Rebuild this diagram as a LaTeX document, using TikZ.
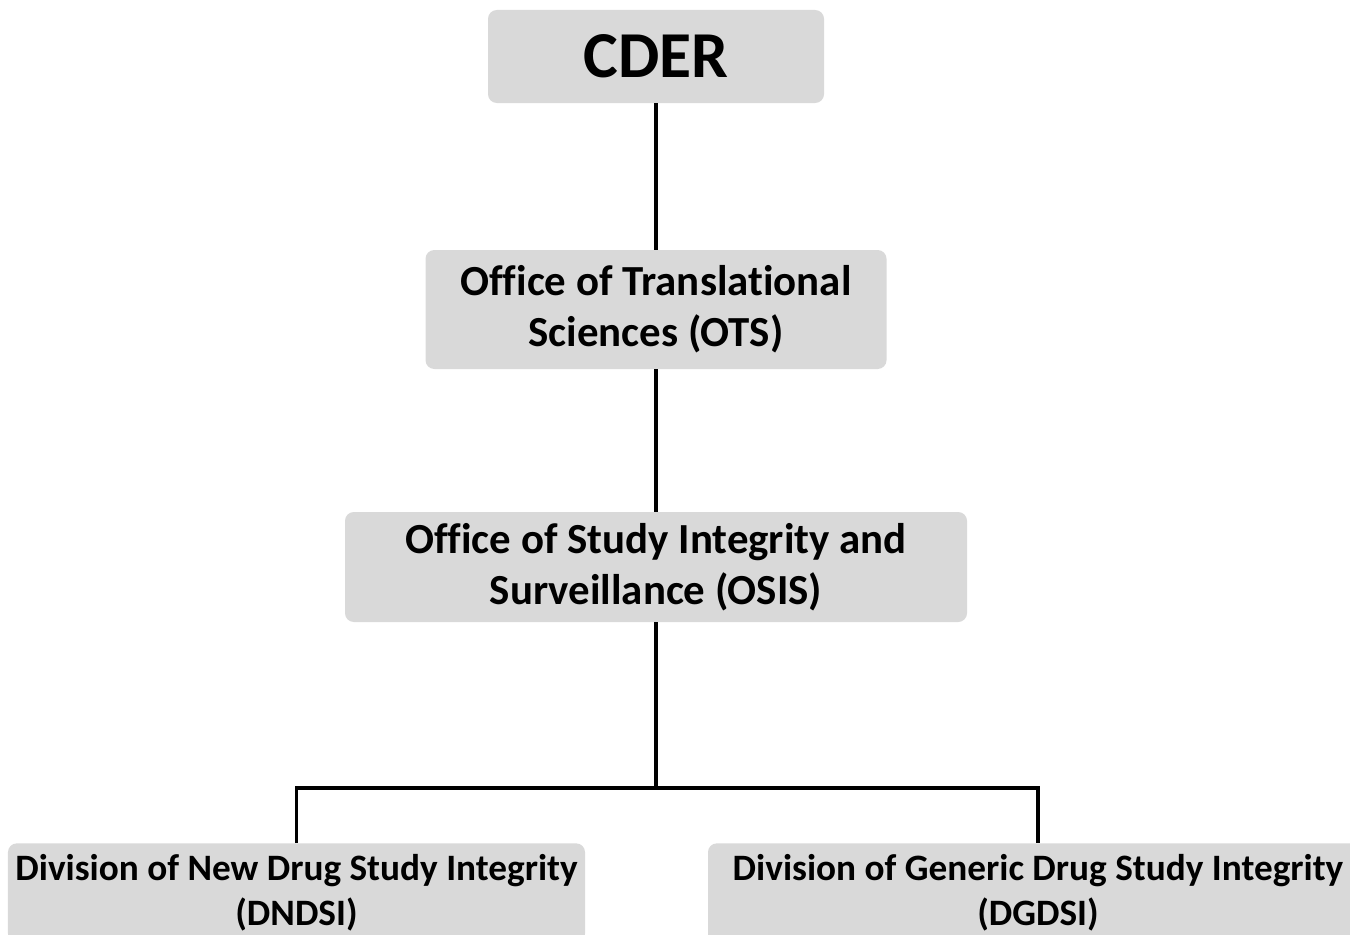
\documentclass[tikz,border=0pt]{standalone}
\usepackage{fontspec}
\setmainfont{Carlito}[Ligatures=NoCommon]
\usetikzlibrary{positioning}
\definecolor{boxgray}{HTML}{D9D9D9}
\tikzset{
  unit/.style={fill=boxgray, rounded corners=5pt, align=center, inner sep=0pt,
    font=\bfseries\fontsize{24.4}{29}\selectfont},
  link/.style={line width=2.2pt},
}

\begin{document}
\begin{tikzpicture}
    % fix the page to the reference size
    \useasboundingbox (0,0) rectangle (27,-18.68);

    % top of the chart
    \node[unit, minimum width=6.72cm, minimum height=1.86cm,
          font=\bfseries\fontsize{37.3}{40}\selectfont] (cder) at (13.12,-1.13) {CDER};

    % offices
    \node[unit, minimum width=9.22cm, minimum height=2.38cm] (ots) at (13.12,-6.19)
        {Office of Translational\\Sciences (OTS)};
    \node[unit, minimum width=12.44cm, minimum height=2.2cm] (osis) at (13.12,-11.34)
        {Office of Study Integrity and\\Surveillance (OSIS)};

    % the two divisions
    \node[unit, anchor=north, minimum width=11.54cm, minimum height=1.98cm,
          font=\bfseries\fontsize{21.2}{25.5}\selectfont] (dndsi) at (5.93,-16.86)
        {Division of New Drug Study Integrity\\(DNDSI)};
    \node[unit, anchor=north, minimum width=13.2cm, minimum height=1.98cm,
          font=\bfseries\fontsize{21.2}{25.5}\selectfont] (dgdsi) at (20.76,-16.86)
        {Division of Generic Drug Study Integrity\\(DGDSI)};

    % connectors
    \coordinate (split) at (13.12,-15.76);
    \draw[link] (cder) -- (ots);
    \draw[link] (ots) -- (osis);
    \draw[link] (osis) -- (split);
    \draw[link] (dndsi) |- (split) -| (dgdsi);

\end{tikzpicture}
\end{document}
